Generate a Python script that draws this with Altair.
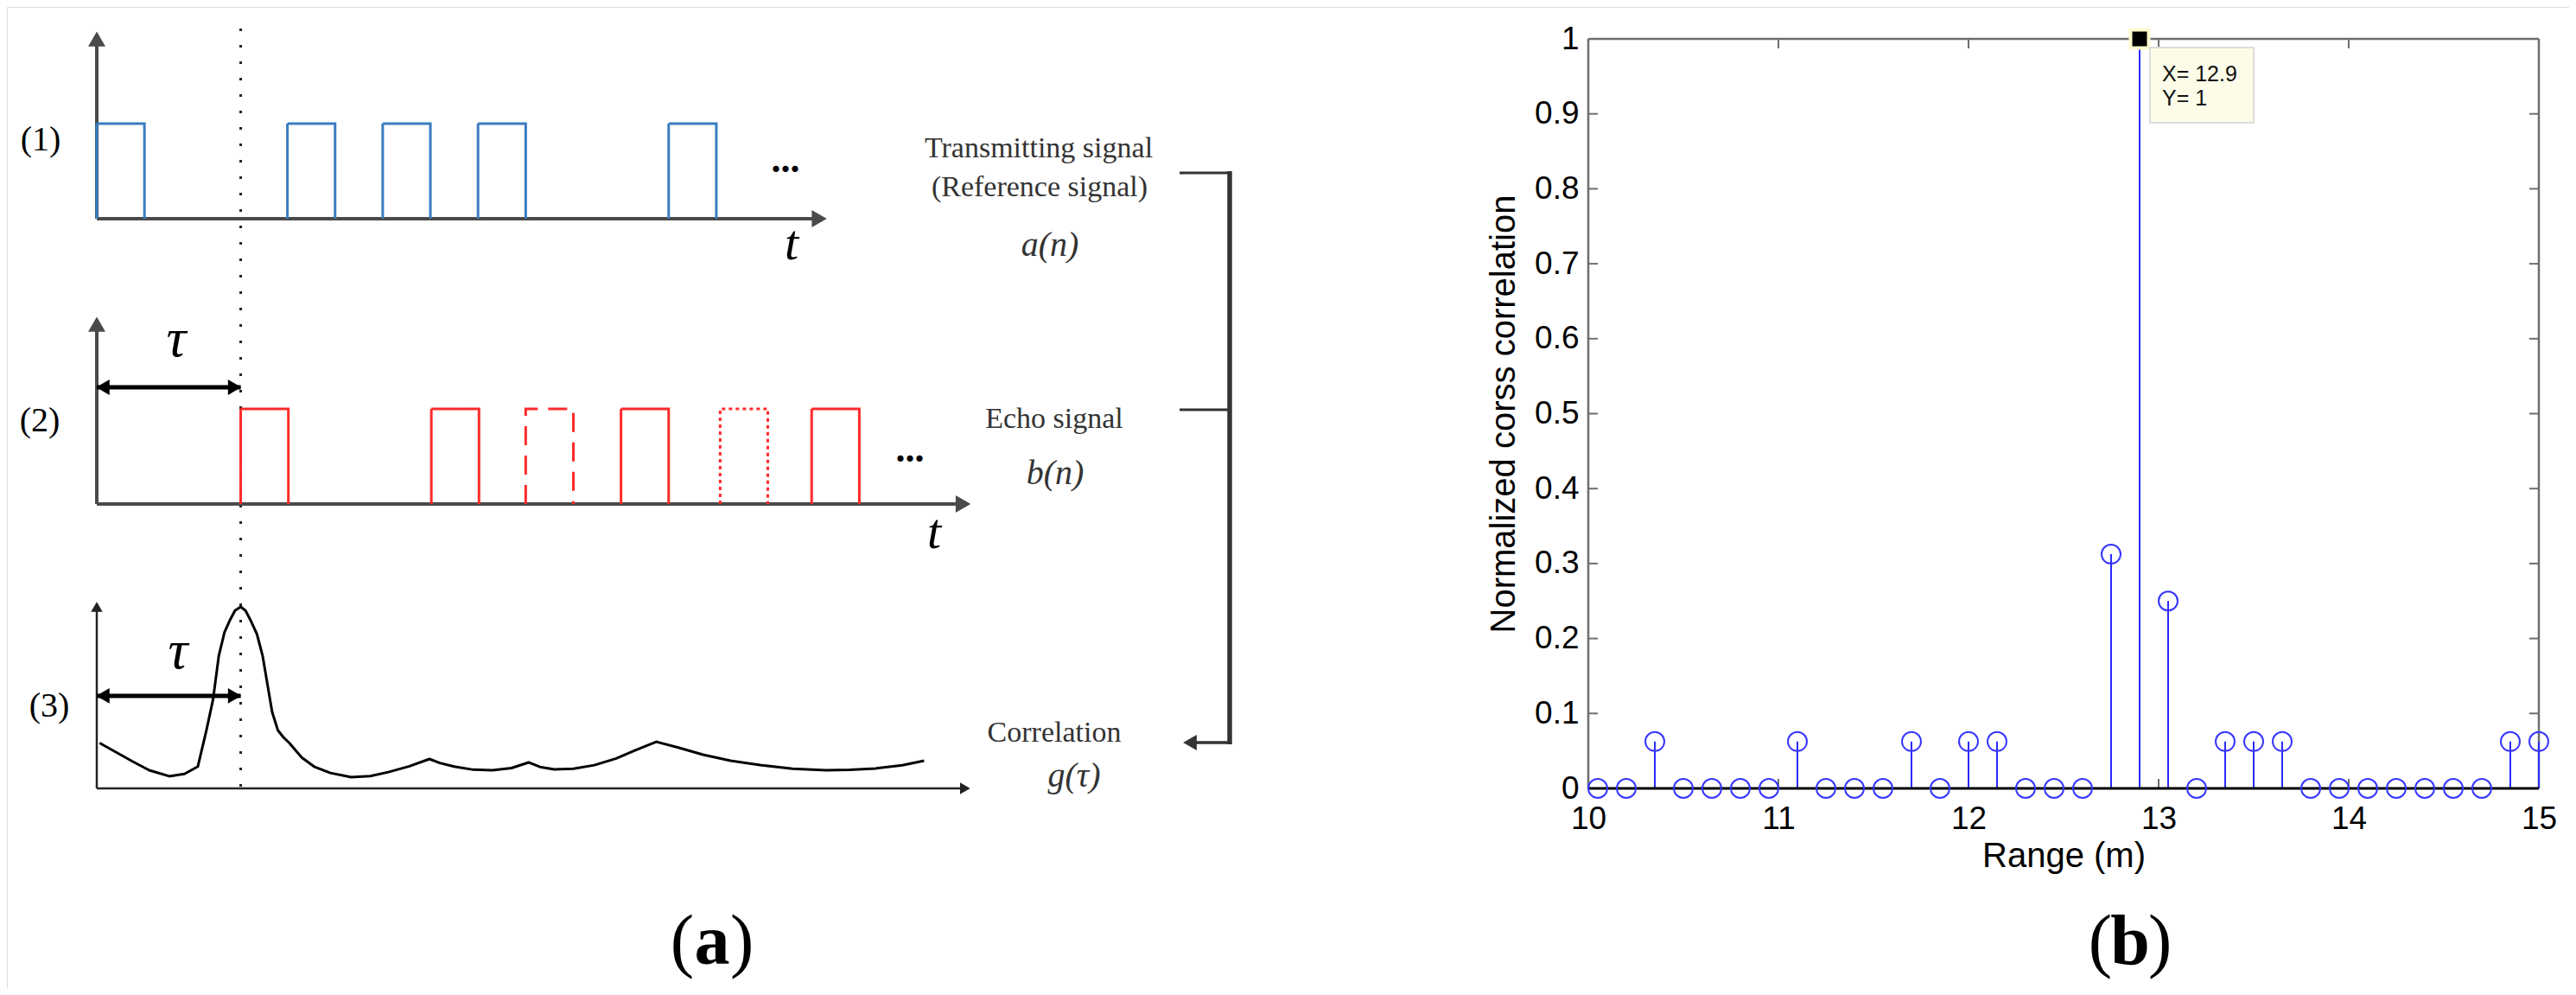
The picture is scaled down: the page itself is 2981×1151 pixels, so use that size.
import altair as alt
import pandas as pd

# ---------------- data: panel (b) ----------------
range_m = [10.05, 10.20, 10.35, 10.50, 10.65, 10.80, 10.95, 11.10, 11.25, 11.40,
           11.55, 11.70, 11.85, 12.00, 12.15, 12.30, 12.45, 12.60, 12.75, 12.90,
           13.05, 13.20, 13.35, 13.50, 13.65, 13.80, 13.95, 14.10, 14.25, 14.40,
           14.55, 14.70, 14.85, 15.00]
norm_corr = [0, 0, 0.0625, 0, 0, 0, 0, 0.0625, 0, 0,
             0, 0.0625, 0, 0.0625, 0.0625, 0, 0, 0, 0.3125, 1,
             0.25, 0, 0.0625, 0.0625, 0.0625, 0, 0, 0, 0, 0,
             0, 0, 0.0625, 0.0625]
range_ticks = [10, 11, 12, 13, 14, 15]
corr_ticks = [0, 0.1, 0.2, 0.3, 0.4, 0.5, 0.6, 0.7, 0.8, 0.9, 1]
inner_range_ticks = [11, 12, 13, 14]
inner_corr_ticks = [0.1, 0.2, 0.3, 0.4, 0.5, 0.6, 0.7, 0.8, 0.9]
peak_range = 12.9
peak_corr = 1

# ---------------- data: panel (a) ----------------
tau = 1.51
pulse_width = 0.5
tx_starts = [0, 2, 3, 4, 6]
tx_styles = ["solid", "solid", "solid", "solid", "solid"]
echo_starts = [1.51, 3.51, 4.50, 5.50, 6.54, 7.50]
echo_styles = ["solid", "solid", "dashed", "solid", "dotted", "solid"]
corr_t = [0.03, 0.20, 0.37, 0.55, 0.76, 0.92, 1.06, 1.15, 1.22, 1.28,
          1.34, 1.40, 1.45, 1.51, 1.56, 1.61, 1.68, 1.74, 1.84, 1.90,
          1.96, 2.02, 2.15, 2.28, 2.45, 2.67, 2.87, 3.06, 3.28, 3.49,
          3.60, 3.75, 3.95, 4.15, 4.35, 4.53, 4.65, 4.80, 5.00, 5.22,
          5.45, 5.65, 5.87, 6.10, 6.36, 6.65, 6.96, 7.30, 7.65, 7.90,
          8.17, 8.45, 8.68]
corr_g = [0.25, 0.20, 0.15, 0.10, 0.067, 0.08, 0.12, 0.32, 0.49, 0.73,
          0.86, 0.93, 0.98, 1.0, 0.98, 0.93, 0.85, 0.73, 0.42, 0.32,
          0.28, 0.25, 0.17, 0.12, 0.085, 0.062, 0.068, 0.09, 0.122, 0.162,
          0.14, 0.12, 0.103, 0.10, 0.112, 0.143, 0.118, 0.105, 0.108, 0.128,
          0.165, 0.21, 0.257, 0.225, 0.186, 0.152, 0.129, 0.108, 0.10, 0.102,
          0.11, 0.127, 0.152]

right_labels = ["Transmitting signal", "(Reference signal)", "a(n)",
                "Echo signal", "b(n)", "Correlation", "g(τ)"]
row_labels = ["(1)", "(2)", "(3)"]

# ---------------- layout ----------------
OFF = 8
W, H = 2965, 1135
SERIF = "Liberation Serif"
SANS = "Liberation Sans"


def p(v):
    return v - OFF


def lin(domain, rng):
    return alt.Scale(domain=domain, range=[p(rng[0]), p(rng[1])], nice=False, zero=False)


XA = lin([0, 10], [112, 1215])
Y1 = lin([0, 1], [253, 143])
Y2 = lin([0, 1], [583, 473])
Y3 = lin([0, 1], [912, 702])
XB = lin([10, 15], [1838, 2938])
YB = lin([0, 1], [912, 45])

layers = []


def qx(field, scale):
    return alt.X(field, type="quantitative", scale=scale, axis=None)


def qy(field, scale):
    return alt.Y(field, type="quantitative", scale=scale, axis=None)


def panel_axes(yscale, ytop, xend, color, width, head):
    lines = pd.DataFrame({"x": [0, 0], "x2": [0, xend], "y": [0, 0], "y2": [ytop, 0]})
    rule = alt.Chart(lines).mark_rule(color=color, strokeWidth=width).encode(
        x=qx("x", XA), x2="x2:Q", y=qy("y", yscale), y2="y2:Q")
    heads = pd.DataFrame({"x": [0, xend], "y": [ytop, 0],
                          "shape": ["triangle-up", "triangle-right"]})
    hd = alt.Chart(heads).mark_point(filled=True, opacity=1, color=color, size=head,
                                     strokeWidth=0).encode(
        x=qx("x", XA), y=qy("y", yscale), shape=alt.Shape("shape:N", scale=None))
    return [rule, hd]


dash_scale = alt.Scale(domain=["solid", "dashed", "dotted"],
                       range=[[1, 0], [22, 12], [4, 4]])


def pulse_df(starts, styles):
    rows = []
    for k, (s, st) in enumerate(zip(starts, styles)):
        for i, (dt, v) in enumerate([(0, 0), (0, 1), (pulse_width, 1), (pulse_width, 0)]):
            rows.append(dict(pulse=k, i=i, t=s + dt, v=v, style=st))
    return pd.DataFrame(rows)


def signal(df, yscale, color):
    return alt.Chart(df).mark_line(color=color, strokeWidth=3, strokeJoin="miter").encode(
        x=qx("t", XA), y=qy("v", yscale), detail="pulse:N", order="i:O",
        strokeDash=alt.StrokeDash("style:N", scale=dash_scale, legend=None))


def tau_arrow(yscale, level):
    df = pd.DataFrame({"t0": [0], "t1": [tau], "v": [level]})
    rule = alt.Chart(df).mark_rule(color="black", strokeWidth=5).encode(
        x=qx("t0", XA), x2="t1:Q", y=qy("v", yscale))
    left = alt.Chart(df).mark_point(shape="triangle-left", filled=True, opacity=1,
                                    color="black", size=320, xOffset=7).encode(
        x=qx("t0", XA), y=qy("v", yscale))
    right = alt.Chart(df).mark_point(shape="triangle-right", filled=True, opacity=1,
                                     color="black", size=320, xOffset=-7).encode(
        x=qx("t1", XA), y=qy("v", yscale))
    return [rule, left, right]


def text_at(txt, x, y, size, font=SERIF, style="normal", weight="normal",
            color="black", align="center", baseline="middle"):
    return alt.Chart(pd.DataFrame({"label": [txt]})).mark_text(
        font=font, fontSize=size, fontStyle=style, fontWeight=weight, color=color,
        align=align, baseline=baseline).encode(
        x=alt.value(p(x)), y=alt.value(p(y)), text="label:N")


def rule_px(x, y, x2, y2, width, color="#333333"):
    return alt.Chart(pd.DataFrame({"k": [0]})).mark_rule(
        color=color, strokeWidth=width).encode(
        x=alt.value(p(x)), x2=alt.value(p(x2)), y=alt.value(p(y)), y2=alt.value(p(y2)))


# ---- panel (a) ----
layers.append(alt.Chart(pd.DataFrame({"t": [tau]})).mark_rule(
    color="#222222", strokeWidth=3, strokeDash=[3, 16]).encode(
    x=qx("t", XA), y=alt.value(p(33)), y2=alt.value(p(912))))

layers += panel_axes(Y1, 1.89, 7.58, "#4a4a4a", 4, 400)
layers.append(signal(pulse_df(tx_starts, tx_styles), Y1, "#3a7cc2"))

layers += panel_axes(Y2, 1.89, 9.09, "#4a4a4a", 4, 400)
layers.append(signal(pulse_df(echo_starts, echo_styles), Y2, "#ff2a2a"))
layers += tau_arrow(Y2, 1.227)

layers += panel_axes(Y3, 1.0, 9.11, "#222222", 2.5, 180)
layers.append(alt.Chart(pd.DataFrame({"t": corr_t, "g": corr_g})).mark_line(
    color="black", strokeWidth=3, interpolate="linear", strokeJoin="round").encode(
    x=qx("t", XA), y=qy("g", Y3)))
layers += tau_arrow(Y3, 0.51)

layers.append(text_at(row_labels[0], 47, 162, 40))
layers.append(text_at(row_labels[1], 46, 487, 40))
layers.append(text_at(row_labels[2], 57, 817, 40))
layers.append(text_at("τ", 204, 393, 64, style="italic"))
layers.append(text_at("τ", 206, 754, 64, style="italic"))
layers.append(text_at("t", 916, 283, 58, style="italic"))
layers.append(text_at("t", 1081, 617, 58, style="italic"))
layers.append(text_at("...", 909, 186, 44, weight="bold"))
layers.append(text_at("...", 1053, 521, 44, weight="bold"))

layers.append(text_at(right_labels[0], 1202, 172, 34, color="#333333"))
layers.append(text_at(right_labels[1], 1203, 217, 34, color="#333333"))
layers.append(text_at(right_labels[2], 1215, 284, 40, style="italic", color="#333333"))
layers.append(text_at(right_labels[3], 1220, 485, 34, color="#333333"))
layers.append(text_at(right_labels[4], 1221, 548, 40, style="italic", color="#333333"))
layers.append(text_at(right_labels[5], 1220, 848, 34, color="#333333"))
layers.append(text_at(right_labels[6], 1243, 898, 40, style="italic", color="#333333"))

layers.append(rule_px(1365, 200, 1423, 200, 3))
layers.append(rule_px(1365, 474, 1423, 474, 3))
layers.append(rule_px(1423, 198, 1423, 861, 5.5))
layers.append(rule_px(1423, 859, 1378, 859, 3.5))
layers.append(alt.Chart(pd.DataFrame({"k": [0]})).mark_point(
    shape="triangle-left", filled=True, opacity=1, color="#333333", size=330).encode(
    x=alt.value(p(1377)), y=alt.value(p(859))))

# ---- panel (b) ----
df_b = pd.DataFrame({"range_m": range_m, "corr": norm_corr})

frame = pd.DataFrame({"x": [10, 10, 15], "x2": [15, 10, 15], "y": [1, 0, 0], "y2": [1, 1, 1]})
layers.append(alt.Chart(frame).mark_rule(color="#6e6e6e", strokeWidth=2.5).encode(
    x=qx("x", XB), x2="x2:Q", y=qy("y", YB), y2="y2:Q"))

yt = pd.DataFrame({"v": inner_corr_ticks})
layers.append(alt.Chart(yt).mark_rule(color="#6e6e6e", strokeWidth=2, x2Offset=11).encode(
    x=alt.X(datum=10, type="quantitative", scale=XB, axis=None), x2=alt.X2(datum=10),
    y=qy("v", YB)))
layers.append(alt.Chart(yt).mark_rule(color="#6e6e6e", strokeWidth=2, x2Offset=-11).encode(
    x=alt.X(datum=15, type="quantitative", scale=XB, axis=None), x2=alt.X2(datum=15),
    y=qy("v", YB)))
xt = pd.DataFrame({"v": inner_range_ticks})
layers.append(alt.Chart(xt).mark_rule(color="#6e6e6e", strokeWidth=2, y2Offset=-11).encode(
    y=alt.Y(datum=0, type="quantitative", scale=YB, axis=None), y2=alt.Y2(datum=0),
    x=qx("v", XB)))
layers.append(alt.Chart(xt).mark_rule(color="#6e6e6e", strokeWidth=2, y2Offset=11).encode(
    y=alt.Y(datum=1, type="quantitative", scale=YB, axis=None), y2=alt.Y2(datum=1),
    x=qx("v", XB)))

stems = alt.Chart(df_b).mark_rule(color="#2a2aff", strokeWidth=2).encode(
    x=alt.X("range_m:Q", scale=XB, axis=alt.Axis(
        values=range_ticks, format="d", orient="bottom", offset=p(912) - H,
        ticks=False, tickSize=0, domain=False, grid=False,
        labelFont=SANS, labelFontSize=37, labelColor="black", labelPadding=17,
        labelFlush=False, labelOverlap=False,
        title="Range (m)", titleFont=SANS, titleFontSize=40, titleFontWeight="normal",
        titleColor="black", titleBaseline="alphabetic", titleY=p(1002) - p(912))),
    y=alt.Y("corr:Q", scale=YB, axis=alt.Axis(
        values=corr_ticks, format="~g", orient="left", offset=-p(1838),
        ticks=False, tickSize=0, domain=False, grid=False,
        labelFont=SANS, labelFontSize=37, labelColor="black", labelPadding=11,
        labelFlush=False, labelOverlap=False,
        title="Normalized corss correlation", titleFont=SANS, titleFontSize=40,
        titleFontWeight="normal", titleColor="black", titleAngle=270,
        titleBaseline="alphabetic", titleAlign="center",
        titleX=p(1752) - p(1838), titleY=p(478.5))),
    y2=alt.Y2(datum=0),
)
layers.append(stems)

layers.append(alt.Chart(pd.DataFrame({"a": [10], "b": [15]})).mark_rule(
    color="black", strokeWidth=3).encode(
    x=qx("a", XB), x2="b:Q", y=alt.Y(datum=0, type="quantitative", scale=YB, axis=None)))

layers.append(alt.Chart(df_b).mark_point(
    shape="circle", filled=False, size=484, strokeWidth=2, color="#3535ff", opacity=1).encode(
    x=qx("range_m", XB), y=qy("corr", YB)))

peak = pd.DataFrame({"x": [peak_range], "y": [peak_corr],
                     "lx": [f"X= {peak_range}"], "ly": [f"Y= {peak_corr:g}"]})
layers.append(alt.Chart(peak).mark_point(
    shape="square", filled=True, opacity=1, color="black", size=441,
    stroke="#fffbd0", strokeWidth=4).encode(
    x=qx("x", XB), y=qy("y", YB)))
layers.append(alt.Chart(peak).mark_rect(
    fill="#fcfce8", stroke="#dcdcdc", strokeWidth=2,
    xOffset=12, x2Offset=132, yOffset=10, y2Offset=97).encode(
    x=qx("x", XB), x2="x:Q", y=qy("y", YB), y2="y:Q"))
layers.append(alt.Chart(peak).mark_text(
    font=SANS, fontSize=25, align="left", baseline="alphabetic", dx=26, dy=49,
    color="#111111").encode(x=qx("x", XB), y=qy("y", YB), text="lx:N"))
layers.append(alt.Chart(peak).mark_text(
    font=SANS, fontSize=25, align="left", baseline="alphabetic", dx=26, dy=77,
    color="#111111").encode(x=qx("x", XB), y=qy("y", YB), text="ly:N"))

# ---- sub-figure captions ----
for cx, letter in [(824, "a"), (2465, "b")]:
    layers.append(text_at("(", cx - 21, 1115, 82, align="right", baseline="alphabetic"))
    layers.append(text_at(letter, cx, 1115, 82, weight="bold", baseline="alphabetic"))
    layers.append(text_at(")", cx + 21, 1115, 82, align="left", baseline="alphabetic"))

chart = alt.layer(*layers).resolve_scale(
    x="independent", y="independent"
).properties(
    width=W, height=H, padding=0, autosize=alt.AutoSizeParams(type="none")
).configure_view(stroke=None).configure(background="white")

chart.save("out.html", embed_options={"renderer": "svg", "actions": False})
